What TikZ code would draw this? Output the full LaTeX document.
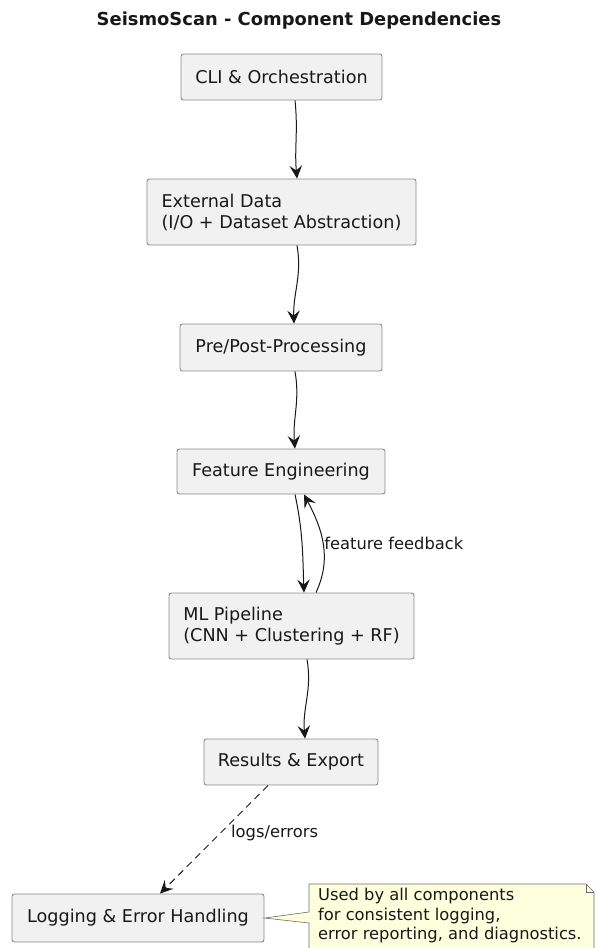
\documentclass[tikz,border=0pt]{standalone}
\usepackage{fontspec}
\setmainfont{DejaVu Sans}
\usetikzlibrary{arrows.meta}
\definecolor{boxfill}{HTML}{F1F1F1}
\definecolor{boxline}{HTML}{8A8A8A}
\definecolor{ink}{HTML}{181818}
\definecolor{notefill}{HTML}{FEFFDD}
\tikzset{
  comp/.style={draw=boxline, fill=boxfill, rounded corners=2.5pt, line width=0.9pt,
    inner sep=0pt, align=left, text=ink, font=\fontsize{17.6}{21}\selectfont},
  dep/.style={draw=ink, line width=1pt, -{Stealth[length=13pt,width=12.5pt,inset=5pt]}},
  lbl/.style={font=\fontsize{16.3}{19}\selectfont, text=ink, inner sep=0pt},
}
\begin{document}
\begin{tikzpicture}[x=1pt,y=1pt]
  \useasboundingbox (0,0) rectangle (596,-948);
  \clip (0,0) rectangle (596,-948);

  % title
  \node[font=\bfseries\fontsize{17.9}{21}\selectfont, text=ink] (title) at (299,-20.5) {SeismoScan - Component Dependencies};

  % components
  \node[comp, minimum width=201pt, minimum height=46pt] (cli)  at (281.5,-77)   {CLI \& Orchestration};
  \node[comp, minimum width=269pt, minimum height=66pt] (ext)  at (281.5,-212)  {External Data\\(I/O + Dataset Abstraction)};
  \node[comp, minimum width=202pt, minimum height=47pt] (pre)  at (281,-347.5)  {Pre/Post-Processing};
  \node[comp, minimum width=208pt, minimum height=45pt] (feat) at (281,-471.5)  {Feature Engineering};
  \node[comp, minimum width=245pt, minimum height=66pt] (ml)   at (291.5,-626)  {ML Pipeline\\(CNN + Clustering + RF)};
  \node[comp, minimum width=174pt, minimum height=46pt] (res)  at (291,-762)    {Results \& Export};
  \node[comp, minimum width=252pt, minimum height=48pt] (log)  at (138,-918)    {Logging \& Error Handling};

  % dependencies
  \draw[dep] ([xshift=13.5pt]cli.south) to[out=-84,in=95] ([xshift=15.5pt]ext.north);
  \draw[dep] ([xshift=15.5pt]ext.south) to[out=-80,in=92] ([xshift=13pt]pre.north);
  \draw[dep] ([xshift=14pt]pre.south) to[out=-80,in=95] ([xshift=14pt]feat.north);
  \draw[dep] ([xshift=14pt]feat.south) to[out=-78,in=92] ([xshift=12.5pt]ml.north);
  \draw[dep] ([xshift=24.5pt]ml.north) to[out=65,in=-62]
    node[lbl, anchor=west, pos=0.5, xshift=1pt] (fb) {feature feedback} ([xshift=23pt]feat.south);
  \draw[dep] ([xshift=15.5pt]ml.south) to[out=-80,in=95] ([xshift=14pt]res.north);
  \draw[dep, dashed, dash pattern=on 7pt off 5pt] ([xshift=-23pt]res.south) -- ([xshift=22pt]log.north);
  \node[lbl, anchor=west] (le) at (231,-833) {logs/errors};

  % note attached to the logging component
  \coordinate (tip) at (log.east);
  \filldraw[draw=boxline!80!black, fill=notefill, line width=0.6pt]
    (309,-884) -- (586,-884) -- (594,-892) -- (594,-960) -- (309,-960) -- (309,-923)
    -- (tip) -- (309,-912) -- cycle;
  \draw[boxline!80!black, line width=0.6pt] (586,-884) -- (586,-892) -- (594,-892);
  \node[lbl, anchor=north west, align=left, font=\fontsize{16.3}{19.5}\selectfont] (note) at (318,-888)
    {Used by all components\\for consistent logging,\\error reporting, and diagnostics.};
\end{tikzpicture}
\end{document}
